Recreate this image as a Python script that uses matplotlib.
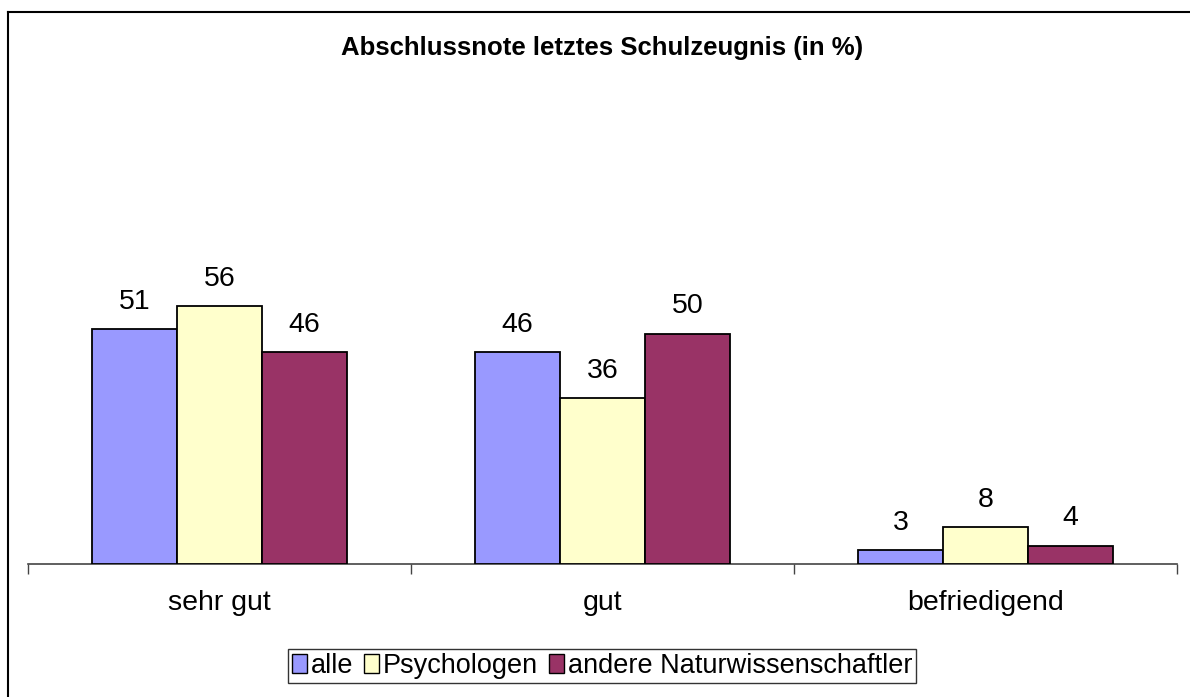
import numpy as np
import matplotlib.pyplot as plt
from matplotlib.patches import Rectangle
from matplotlib.lines import Line2D

# data
categories = ["sehr gut", "gut", "befriedigend"]
series_names = ["alle", "Psychologen", "andere Naturwissenschaftler"]
alle = [51, 46, 3]
psychologen = [56, 36, 8]
andere = [46, 50, 4]
colors = ["#9999FF", "#FFFFCC", "#993366"]

W, H = 1190, 697
fig = plt.figure(figsize=(W / 100, H / 100), dpi=100)
plt.rcParams['font.family'] = ['Liberation Sans', 'DejaVu Sans']

# plot area in pixel coords
x0, x1 = 28, 1177
y_axis, y_top = 564, 104
ax = fig.add_axes([x0 / W, 1 - y_axis / H, (x1 - x0) / W, (y_axis - y_top) / H])
ax.set_xlim(0, 3)
ax.set_ylim(0, 100)

bw = 85 / 383
x = np.arange(len(categories)) + 0.5
for i, (vals, c, name) in enumerate(zip([alle, psychologen, andere], colors, series_names)):
    pos = x + (i - 1) * bw
    ax.bar(pos, vals, width=bw, color=c, edgecolor="black", linewidth=1.3, label=name, zorder=3)
    for p, v in zip(pos, vals):
        ax.text(p, v + 6.0, str(v), ha="center", va="center", fontsize=20.5)

for s in ["top", "right", "left"]:
    ax.spines[s].set_visible(False)
ax.spines["bottom"].set_color("#444444")
ax.spines["bottom"].set_linewidth(1.2)
ax.set_yticks([])
ax.set_xticks([0, 1, 2, 3])
ax.set_xticklabels([])
ax.tick_params(axis="x", length=7, width=1.0, color="#444444")
for xi, cat in zip(x, categories):
    ax.text(xi, -8.5, cat, ha="center", va="center", fontsize=20.5)

fig.text(602 / W, 1 - 48 / H, "Abschlussnote letztes Schulzeugnis (in %)",
         ha="center", va="center", fontsize=18.5, fontweight="bold")

# outer chart border
fig.add_artist(Line2D([8 / W, 8 / W], [0, 1 - 12 / H], color="black", lw=1.5, transform=fig.transFigure))
fig.add_artist(Line2D([8 / W, 1], [1 - 12 / H, 1 - 12 / H], color="black", lw=1.5, transform=fig.transFigure))

handles = [Rectangle((0, 0), 1, 1, facecolor=c, edgecolor="black", lw=1) for c in colors]
leg = fig.legend(handles, series_names, loc="center", bbox_to_anchor=(602 / W, 1 - 666 / H),
                 ncol=3, frameon=True, fancybox=False, fontsize=19.5, handlelength=0.55,
                 handleheight=0.65, handletextpad=0.15, columnspacing=0.4, borderpad=0.15,
                 borderaxespad=0)
leg.get_frame().set_edgecolor("black")
leg.get_frame().set_linewidth(1.0)

fig.savefig("out.png", dpi=100)
